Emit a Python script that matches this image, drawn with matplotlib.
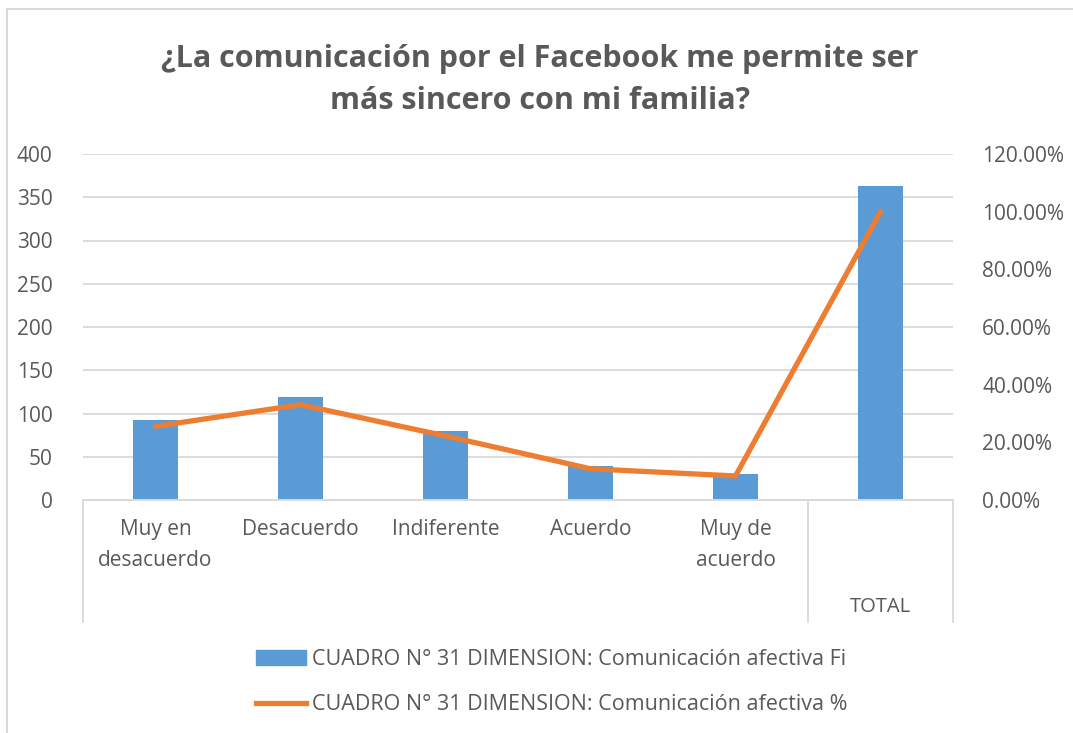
import matplotlib
matplotlib.use("Agg")
import matplotlib.pyplot as plt
from matplotlib.lines import Line2D
from matplotlib.patches import Patch
from matplotlib.ticker import PercentFormatter
import numpy as np

plt.rcParams['font.family'] = ['Open Sans', 'DejaVu Sans']

categorias = ['Muy en\ndesacuerdo', 'Desacuerdo', 'Indiferente', 'Acuerdo', 'Muy de\nacuerdo', '']
grupo = 'TOTAL'
fi = [92, 119, 80, 39, 30, 363]
porcentaje = [25.56, 33.06, 22.22, 10.83, 8.33, 100.0]
serie_fi = 'CUADRO N° 31 DIMENSION: Comunicación afectiva Fi'
serie_pct = 'CUADRO N° 31 DIMENSION: Comunicación afectiva %'
titulo = '¿La comunicación por el Facebook me permite ser\nmás sincero con mi familia?'

gris = '#595959'
rejilla = '#d9d9d9'
azul = '#5B9BD5'
naranja = '#ED7D31'

W, H = 1073, 733
fig = plt.figure(figsize=(W / 100, H / 100), dpi=100)
ax = fig.add_axes([83 / W, 1 - 500 / H, (953 - 83) / W, 346 / H])
ax2 = ax.twinx()

x = np.arange(len(fi))
ax.bar(x, fi, width=0.31, color=azul, zorder=2)
ax2.plot(x, np.array(porcentaje) / 100, color=naranja, lw=3.8, solid_capstyle='round', zorder=3)

ax.set_xlim(-0.5, len(fi) - 0.5)
ax.set_ylim(0, 400)
ax.set_yticks(np.arange(0, 401, 50))
ax.yaxis.grid(True, color=rejilla, lw=1.3, zorder=0)
ax.set_axisbelow(True)
ax2.set_ylim(0, 1.2)
ax2.set_yticks(np.arange(0, 1.21, 0.2))
ax2.yaxis.set_major_formatter(PercentFormatter(1.0, decimals=2))

for a in (ax, ax2):
    for s in ('top', 'left', 'right'):
        a.spines[s].set_visible(False)
    a.spines['bottom'].set_color(rejilla)
    a.spines['bottom'].set_linewidth(1.3)
    a.tick_params(axis='y', length=0, labelsize=15, labelcolor=gris)
ax.tick_params(axis='y', pad=22)
ax2.tick_params(axis='y', pad=21)
ax.set_xticks([])

# etiquetas de categorias y separadores de grupo
trans = ax.get_xaxis_transform()
for xi, lab in zip(x, categorias):
    ax.text(xi, -0.055, lab, transform=trans, ha='center', va='top',
            fontsize=15, color=gris, linespacing=1.65)
ax.text(5, -0.31, grupo, transform=trans, ha='center', va='center', fontsize=14.5, color=gris)
for xs in (-0.5, 4.5, 5.5):
    ax.add_line(Line2D([xs, xs], [0, -0.353], transform=trans, color=rejilla,
                       lw=1.3, clip_on=False))

fig.text(540 / W, 1 - 80 / H, titulo, ha='center', va='center', fontsize=22,
         fontweight='bold', color=gris, linespacing=1.5)

handles = [Patch(color=azul), Line2D([], [], color=naranja, lw=3.8)]
fig.legend(handles, [serie_fi, serie_pct], loc='center', bbox_to_anchor=(552 / W, 1 - 682 / H),
           frameon=False, fontsize=15.5, labelcolor=gris, handlelength=2.3,
           handletextpad=0.3, labelspacing=1.15)

# borde del grafico
fig.add_artist(Line2D([7 / W, 7 / W], [0, 1 - 9 / H], transform=fig.transFigure, color=rejilla, lw=1.5))
fig.add_artist(Line2D([7 / W, 1], [1 - 9 / H, 1 - 9 / H], transform=fig.transFigure, color=rejilla, lw=1.5))

fig.savefig('out.png', dpi=100)
